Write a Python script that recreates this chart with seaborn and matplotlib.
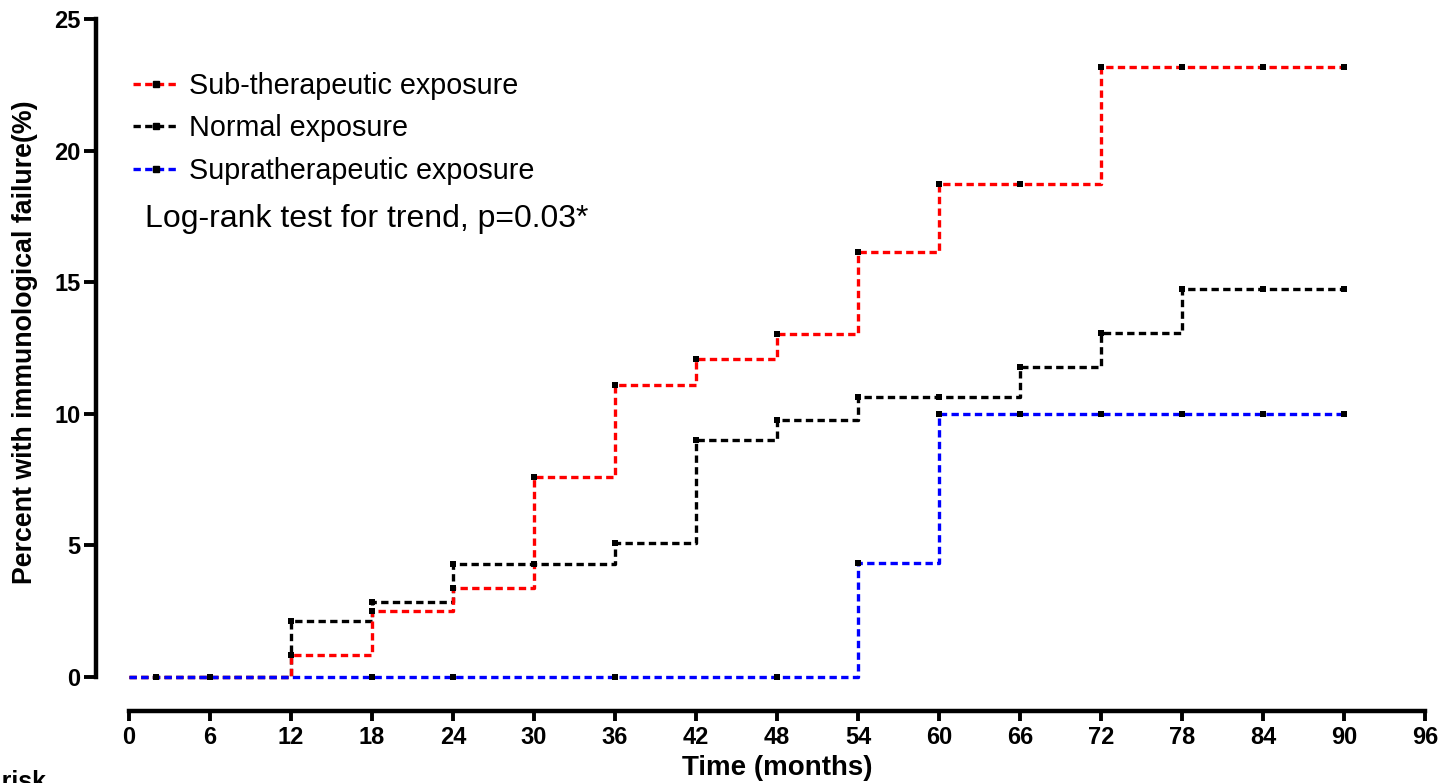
import numpy as np
import pandas as pd
import matplotlib
matplotlib.use("Agg")
import matplotlib.pyplot as plt
from matplotlib.lines import Line2D
import seaborn as sns

# --- DATA ---
GROUPS = ["Sub-therapeutic exposure", "Normal exposure", "Supratherapeutic exposure"]
COLORS = ["#ff0000", "#000000", "#0000ff"]

step_times = [0, 12, 18, 24, 30, 36, 42, 48, 54, 60, 66, 72, 78, 84, 90]
sub_pct = [0, 0.85, 2.5, 3.38, 7.6, 11.1, 12.08, 13.03, 16.15, 18.73, 18.73, 23.18, 23.18, 23.18, 23.18]
normal_pct = [0, 2.13, 2.85, 4.29, 4.29, 5.09, 9.0, 9.76, 10.64, 10.64, 11.78, 13.07, 14.74, 14.74, 14.74]
supra_pct = [0, 0, 0, 0, 0, 0, 0, 0, 4.33, 9.99, 9.99, 9.99, 9.99, 9.99, 9.99]

# censoring ticks (months)
sub_censor = [12, 18, 24, 30, 36, 42, 48, 54, 60, 66, 72, 78, 84, 90]
normal_censor = [12, 18, 24, 30, 36, 42, 48, 54, 60, 66, 72, 78, 84, 90]
supra_censor = [2, 6, 18, 24, 36, 48, 54, 60, 66, 72, 78, 84, 90]

x_ticks = list(range(0, 97, 6))
y_ticks = [0, 5, 10, 15, 20, 25]

OUT_FILE = "out.png"


def step_value(times, values, t):
    idx = np.searchsorted(times, t, side="right") - 1
    return values[idx]


def build_frames():
    curves = dict(zip(GROUPS, [sub_pct, normal_pct, supra_pct]))
    censors = dict(zip(GROUPS, [sub_censor, normal_censor, supra_censor]))
    lines, marks = [], []
    for g in GROUPS:
        for t, v in zip(step_times, curves[g]):
            lines.append({"time": t, "pct": v, "group": g})
        for t in censors[g]:
            marks.append({"time": t, "pct": step_value(step_times, curves[g], t), "group": g})
    return pd.DataFrame(lines), pd.DataFrame(marks)


def make_plot():
    sns.set_style("ticks")
    plt.rcParams["font.family"] = ["Liberation Sans", "DejaVu Sans"]
    plt.rcParams["text.color"] = "black"
    plt.rcParams["xtick.color"] = "black"
    plt.rcParams["ytick.color"] = "black"
    plt.rcParams["axes.edgecolor"] = "black"

    df_lines, df_marks = build_frames()
    palette = dict(zip(GROUPS, COLORS))
    dash = (0, (2.2, 1.3))

    fig = plt.figure(figsize=(14.42, 7.83), dpi=100)
    ax = fig.add_axes([129 / 1442, 1 - 677 / 783, 1296 / 1442, 658 / 783])

    # blue goes last so its zero line stays on top, as in the original
    for g in [GROUPS[1], GROUPS[0], GROUPS[2]]:
        sns.lineplot(data=df_lines[df_lines.group == g], x="time", y="pct", color=palette[g],
                     drawstyle="steps-post", linestyle=dash, linewidth=2.4,
                     errorbar=None, ax=ax, legend=False, clip_on=False)
    sns.scatterplot(data=df_marks, x="time", y="pct", color="black", marker="s",
                    s=20, linewidth=0, ax=ax, legend=False, zorder=5, clip_on=False)

    ax.set_xlim(0, 96)
    ax.set_ylim(0, 25)
    ax.set_xticks(x_ticks)
    ax.set_yticks(y_ticks)
    ax.set_xlabel("")
    ax.set_ylabel("")

    sns.despine(ax=ax)
    ax.spines["left"].set_position(("outward", 24))
    ax.spines["bottom"].set_position(("outward", 24.5))
    for s in ["left", "bottom"]:
        ax.spines[s].set_linewidth(3.2)
    ax.tick_params(axis="both", width=2.8, labelsize=17)
    ax.tick_params(axis="y", length=9, pad=2)
    ax.tick_params(axis="x", length=7, pad=4)
    for lab in ax.get_xticklabels() + ax.get_yticklabels():
        lab.set_fontweight("bold")

    fig.text(25 / 1442, 1 - 342 / 783, "Percent with immunological failure(%)",
             rotation=90, ha="center", va="center", fontsize=19.3, fontweight="bold")
    fig.text(777 / 1442, 1 - 768 / 783, "Time (months)",
             ha="center", va="center", fontsize=20, fontweight="bold")
    fig.text(46 / 1442, 1 - 770 / 783, "Number at risk",
             ha="right", va="top", fontsize=18, fontweight="bold")

    handles = [Line2D([0], [0], color=c, linestyle=dash, linewidth=2.4, marker="s",
                      markersize=4, markerfacecolor="black", markeredgecolor="black")
               for c in COLORS]
    fig.legend(handles, GROUPS, loc="upper left", bbox_to_anchor=(133 / 1442, 1 - 72 / 783),
               frameon=False, fontsize=20.7, handlelength=1.6, handletextpad=0.35,
               labelspacing=0.5, borderaxespad=0, borderpad=0)

    fig.text(145 / 1442, 1 - 219 / 783, "Log-rank test for trend, p=0.03*",
             ha="left", va="center", fontsize=23)

    fig.savefig(OUT_FILE, dpi=100)
    print(f"Plot saved to {OUT_FILE}")


if __name__ == "__main__":
    make_plot()
